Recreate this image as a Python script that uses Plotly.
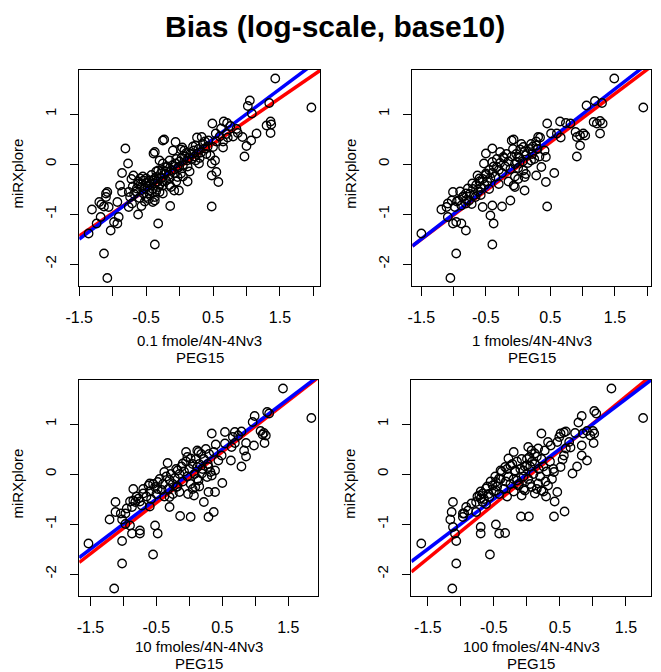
import plotly.graph_objects as go

# ---------------- data (log10 bias) ----------------
x1 = [1.43, 1.97, 1.05, 1.02, 1.08, 1.34, 1.30, 1.36, 1.37, 1.36, 1.15, 1.07, 1.00, 0.97, 0.94, 0.87,
      0.72, 0.66, 0.71, 0.76, 0.49, 0.62, 0.54, 0.65, 0.33, 0.26, 0.43, 0.38, 0.46, 0.50, 0.48, 0.53,
      0.55, 0.48, 0.58, 0.48, 0.24, 0.21, 0.16, 0.11, 0.24, 0.29, 0.04, 0.02, 0.07, -0.06, -0.25, -0.23,
      -0.37, -0.39, -0.10, -0.15, -0.06, -0.01, 0.02, -0.03, -0.08, -0.01, -0.14, -0.30, -0.25, -0.20,
      -0.32, -0.28, -0.35, -0.40, -0.45, -0.50, -0.54, -0.59, -0.62, -0.57, -0.64, -0.52, -0.45, -0.37,
      -0.32, -0.25, -0.20, -0.15, -0.13, -0.25, -0.30, -0.37, -0.45, -0.50, -0.54, -0.81, -0.77, -0.86,
      -0.69, -0.89, -0.86, -0.76, -0.74, -0.93, -1.08, -1.10, -1.10, -1.20, -1.17, -1.13, -1.06, -1.31,
      -1.36, -1.24, -1.18, -1.03, -0.98, -0.93, -0.91, -0.76, -0.71, -0.57, -0.62, -0.32, -0.37, -1.13,
      -1.08, -0.40, -0.37,
      -0.62, -0.58, -0.55, -0.50, -0.48, -0.44, -0.42, -0.38, -0.35, -0.33, -0.30, -0.28, -0.26, -0.22,
      -0.20, -0.18, -0.16, -0.12, -0.10, -0.08, -0.05, -0.03, 0.00, 0.03, 0.05, 0.08, 0.10, 0.12, 0.14,
      0.18, 0.20, 0.22, 0.26, 0.28, 0.30, 0.32, 0.35, 0.38, 0.40, 0.42, -0.65, -0.70, -0.72, -0.68,
      -0.60, -0.52, -0.46, -0.40, -0.35, -0.25, -0.15, -0.05, 0.05, 0.15, 0.12, 0.60, 0.70, 0.80, 0.55,
      0.65, 0.85]
y1 = [1.71, 1.13, 1.27, 1.16, 1.01, 1.22, 0.77, 0.85, 0.79, 0.62, 0.61, 0.47, 0.36, 0.15, 0.54, 0.62,
      0.53, 0.85, 0.82, 0.76, 0.81, 0.71, 0.61, 0.33, 0.54, 0.53, 0.47, 0.31, 0.17, 0.34, 0.01, 0.07,
      -0.16, -0.23, -0.36, -0.85, 0.37, 0.27, 0.21, 0.07, 0.07, 0.01, 0.33, 0.29, 0.27, 0.44, 0.47, 0.49,
      0.24, 0.21, 0.27, 0.07, 0.01, -0.06, -0.19, -0.26, -0.53, -0.53, -0.84, 0.07, 0.01, -0.06,
      -0.13, -0.19, -0.26, -0.33, -0.33, -0.29, -0.33, -0.29, -0.39, -0.46, -0.49, -0.49, -0.53, -0.39,
      -0.46, -0.43, -0.33, -0.29, -0.46, -0.59, -0.56, -0.73, -0.59, -0.66, -0.59, 0.31, 0.01, -0.18,
      -0.23, -0.43, -0.56, -0.56, -0.66, -0.76, -0.56, -0.59, -0.66, -0.76, -0.81, -0.85, -0.86, -0.91,
      -1.39, -1.19, -1.06, -1.33, -1.16, -1.19, -1.06, -0.86, -0.79, -0.84, -1.01, -1.19, -1.61, -1.79,
      -2.28, -0.76, -0.66,
      -0.35, -0.40, -0.25, -0.38, -0.45, -0.40, -0.22, -0.30, -0.15, -0.35, -0.42, -0.28, -0.12, -0.20,
      -0.15, -0.05, -0.22, -0.12, -0.02, -0.18, 0.10, -0.08, 0.05, 0.12, -0.02, 0.15, 0.22, -0.05, 0.12,
      0.10, 0.35, 0.15, 0.20, 0.30, 0.12, 0.23, 0.40, 0.45, 0.20, 0.35, -0.55, -0.45, -0.30, -0.60,
      -0.68, -0.75, -0.70, -0.50, -0.55, -0.35, -0.42, -0.35, -0.25, -0.15, -0.35, 0.55, 0.60, 0.55, 0.45,
      0.45, 0.70]

x2 = [1.49, 1.94, 1.06, 1.19, 1.30, 1.17, 1.22, 1.27, 1.31, 1.27, 1.01, 1.04, 0.96, 0.89, 0.91, 0.96,
      0.91, 0.81, 0.74, 0.65, 0.60, 0.66, 0.51, 0.45, 0.31, 0.34, 0.23, 0.28, 0.41, 0.43, 0.56, 0.43,
      0.45, 0.28, 0.36, 0.20, 0.08, 0.10, -0.05, -0.07, 0.10, -0.10, -0.07, 0.03, 0.08, 0.00, -0.02,
      -0.40, -0.50, -0.53, -0.28, -0.23, -0.40, -0.33, -0.63, -0.60, -0.50, -0.71, -0.78, -0.81, -0.86,
      -0.93, -1.01, -1.03, -1.09, -1.19, -1.11, -0.98, -0.88, -0.81, -0.76, -0.66, -0.55, -0.40, -0.43,
      -0.38, -0.40, -0.25, -0.12, -1.09, -1.01, -0.96, -0.88, -0.81, -0.96, -1.05, -1.50,
      -0.85, -0.80, -0.75, -0.70, -0.68, -0.65, -0.62, -0.60, -0.58, -0.55, -0.52, -0.50, -0.48, -0.45,
      -0.43, -0.40, -0.38, -0.35, -0.33, -0.30, -0.28, -0.25, -0.22, -0.20, -0.18, -0.15, -0.12, -0.10,
      -0.08, -0.05, -0.03, 0.00, 0.02, 0.05, 0.07, 0.10, 0.12, 0.15, 0.18, 0.20, 0.22, 0.25, 0.28, 0.30,
      0.33, -0.58, -0.45, -0.30, -0.15, -0.05, 0.00, 0.12, -0.90, -0.95, -0.72]
y2 = [1.71, 1.13, 1.17, 1.26, 1.22, 0.84, 0.81, 0.86, 0.81, 0.61, 0.61, 0.57, 0.57, 0.64, 0.54, 0.37,
      0.15, 0.81, 0.82, 0.85, 0.61, 0.53, 0.61, 0.81, 0.54, 0.53, 0.35, 0.37, 0.27, 0.14, -0.18, -0.36,
      -0.85, -0.23, -0.06, 0.07, -0.13, -0.26, -0.46, -0.43, -0.53, 0.47, 0.49, 0.29, 0.34, 0.14, 0.04,
      0.31, 0.21, 0.01, 0.24, 0.14, 0.04, -0.06, -0.23, -0.29, -0.19, -0.39, -0.49, -0.59, -0.66,
      -0.73, -0.56, -0.73, -0.79, -0.91, -0.86, -0.86, -0.83, -0.79, -0.73, -0.66, -0.86, -0.83, -1.03,
      -1.19, -1.61, -0.85, -0.73, -1.06, -1.19, -1.16, -1.19, -1.33, -1.79, -2.28, -1.39,
      -0.65, -0.72, -0.60, -0.50, -0.62, -0.42, -0.55, -0.35, -0.48, -0.30, -0.42, -0.22, -0.35, -0.12,
      -0.28, -0.18, -0.05, -0.25, 0.10, -0.12, 0.02, -0.18, 0.12, -0.05, 0.20, 0.05, -0.10, 0.15,
      0.30, 0.00, 0.20, -0.08, 0.12, 0.40, 0.05, 0.25, 0.18, 0.02, 0.30, 0.40, 0.20, 0.10, 0.45, 0.30,
      0.15, -0.62, -0.50, -0.40, -0.35, -0.25, -0.30, -0.20, -0.55, -0.75, -0.80]

x3 = [1.42, 1.85, 0.99, 0.96, 1.18, 1.21, 1.08, 1.13, 1.16, 1.11, 1.14, 0.98, 0.86, 0.83, 0.86, 0.79,
      0.69, 0.64, 0.63, 0.54, 0.69, 0.79, 0.74, 0.66, 0.34, 0.40, 0.54, 0.49, 0.44, 0.37, 0.29, 0.32,
      0.27, 0.34, 0.39, 0.50, 0.39, 0.29, 0.37, 0.29, 0.22, 0.07, 0.02, -0.14, 0.09, 0.14, 0.19, 0.12,
      -0.05, -0.03, -0.10, 0.12, 0.14, 0.02, -0.18, -0.33, -0.38, -0.48, -0.52, -0.60, -0.62, -0.70,
      -0.77, -0.85, -0.82, -0.72, -0.87, -0.95, -0.97, -1.12, -1.12, -1.21, -1.04, -1.02, -0.97, -0.90,
      -0.87, -0.75, -0.75, -0.48, -0.52, -0.55, -1.02, -1.02, -1.14, -1.53, -0.30, -0.30, -0.15, -0.20,
      -0.80, -0.75, -0.70, -0.65, -0.60, -0.58, -0.55, -0.50, -0.48, -0.45, -0.42, -0.40, -0.38, -0.35,
      -0.32, -0.30, -0.28, -0.25, -0.22, -0.20, -0.18, -0.15, -0.12, -0.10, -0.08, -0.05, -0.03, 0.00,
      0.02, 0.05, 0.08, 0.10, 0.12, 0.15, 0.18, 0.20, 0.22, 0.25, 0.28, 0.30, 0.05, -0.02, 0.15, -0.25,
      -0.60, -0.90, -0.85]
y3 = [1.71, 1.12, 1.16, 1.04, 1.24, 1.21, 0.86, 0.82, 0.77, 0.79, 0.62, 0.57, 0.62, 0.47, 0.35, 0.15,
      0.62, 0.54, 0.27, 0.84, 0.84, 0.85, 0.77, 0.74, 0.81, 0.59, 0.61, 0.37, 0.27, 0.44, 0.14, 0.04,
      -0.06, -0.03, 0.07, -0.18, -0.36, -0.36, -0.76, -0.86, -0.56, -0.43, -0.86, -0.84, -0.26, -0.13,
      0.01, 0.14, 0.44, 0.34, 0.21, 0.47, 0.44, 0.31, 0.07, 0.22, 0.04, -0.16, -0.26, -0.19, -0.23,
      -0.39, -0.49, -0.53, -0.56, -0.63, -0.66, -0.69, -0.79, -0.56, -0.76, -0.91, -0.79, -0.91, -1.00,
      -1.03, -1.19, -1.13, -1.19, -1.19, -1.03, -1.61, -1.34, -1.79, -2.29, -1.39, -0.66, -0.46, -0.36,
      -0.26,
      -0.45, -0.55, -0.30, -0.45, -0.35, -0.50, -0.20, -0.40, -0.30, -0.10, -0.32, -0.20, -0.45, -0.05,
      -0.30, -0.12, 0.00, -0.20, -0.08, 0.10, -0.25, 0.00, 0.15, -0.15, 0.05, 0.25, -0.05, 0.10,
      -0.20, 0.20, 0.00, 0.30, -0.10, 0.20, 0.40, 0.10, 0.30, 0.50, 0.20, 0.40, -0.30, -0.40, -0.25,
      -0.40, -0.65, -0.55, -0.30]

x4 = [1.28, 1.76, 1.02, 1.05, 0.83, 0.78, 0.91, 0.85, 0.96, 1.00, 1.02, 1.01, 0.83, 0.91, 0.83, 0.76,
      0.69, 0.73, 0.59, 0.56, 0.51, 0.49, 0.46, 0.64, 0.66, 0.59, 0.56, 0.54, 0.51, 0.41, 0.22, 0.32,
      0.36, 0.27, 0.17, 0.12, 0.07, 0.02, 0.04, 0.46, 0.42, 0.41, 0.57, 0.32, 0.29, 0.22, 0.17, 0.12,
      0.03, -0.09, 0.07, -0.03, -0.08, -0.13, -0.15, -0.18, -0.05, 0.00, -0.20, -0.25, -0.33, -0.28,
      -0.40, -0.42, -0.47, -0.52, -0.47, -0.62, -0.67, -0.72, -0.70, -0.77, -0.84, -0.89, -0.92, -0.97,
      -0.77, -0.67, -0.57, -1.12, -1.14, -1.16, -1.12, -1.07, -1.09, -0.70, -0.70, -0.47, -0.42, -0.33,
      -0.56, -1.07, -1.13, -1.60, -0.95, -0.97,
      -0.75, -0.70, -0.65, -0.60, -0.58, -0.55, -0.50, -0.48, -0.45, -0.42, -0.40, -0.38, -0.35, -0.32,
      -0.30, -0.28, -0.25, -0.22, -0.20, -0.18, -0.15, -0.12, -0.10, -0.08, -0.05, -0.03, 0.00, 0.02,
      0.05, 0.08, 0.10, 0.12, 0.15, 0.18, 0.20, 0.22, 0.25, 0.28, 0.30, 0.35, 0.38, 0.40, -0.30, -0.20,
      -0.05, 0.05, 0.15, 0.25, -0.62]
y4 = [1.71, 1.12, 1.26, 1.21, 1.16, 1.03, 0.86, 0.81, 0.77, 0.86, 0.81, 0.62, 0.57, 0.27, 0.37, 0.15,
      0.01, 0.82, 0.85, 0.83, 0.81, 0.74, 0.64, 0.64, 0.53, 0.51, 0.37, 0.29, 0.14, 0.04, 0.81, 0.64,
      0.57, 0.47, 0.51, 0.41, 0.47, 0.54, 0.34, -0.36, -0.55, -0.85, -0.75, -0.23, -0.45, -0.33, -0.19,
      -0.39, -0.85, -0.85, -0.26, -0.33, -0.43, -0.23, -0.13, 0.07, 0.07, 0.17, 0.44, 0.17, 0.14, 0.31,
      0.07, -0.09, -0.16, -0.23, -0.33, -0.29, -0.39, -0.43, -0.49, -0.56, -0.59, -0.73, -0.66, -0.79,
      -0.76, -0.56, -0.46, -0.56, -0.76, -0.91, -1.06, -1.34, -1.19, -1.06, -1.19, -1.01, -1.19, -1.18,
      -1.61, -1.79, -2.29, -1.39, -0.79, -0.86,
      -0.45, -0.35, -0.50, -0.25, -0.40, -0.15, -0.35, -0.05, -0.25, -0.40, -0.10, 0.05, -0.30, -0.15,
      0.10, -0.05, -0.20, 0.20, -0.10, 0.05, 0.25, -0.20, 0.10, 0.30, -0.05, 0.15, 0.30, -0.10,
      0.15, 0.25, 0.00, 0.20, 0.35, 0.10, -0.05, 0.30, 0.15, -0.15, 0.05, 0.25, -0.10, 0.10, -0.45, -0.35,
      -0.30, -0.20, -0.30, -0.35, -0.60]

xs = [x1, x2, x3, x4]
ys = [y1, y2, y3, y4]

# regression lines (red: fitted line, blue: identity)
red_intercept = [-0.06, -0.05, -0.065, -0.07]
red_slope = [0.92, 0.97, 1.02, 1.08]
blue_intercept = [0.0, 0.0, 0.0, 0.0]
blue_slope = [1.0, 1.0, 1.0, 1.0]

xlabels = ["0.1 fmole/4N-4Nv3", "1 fmoles/4N-4Nv3", "10 fmoles/4N-4Nv3", "100 fmoles/4N-4Nv3"]
xlab2 = "PEG15"
ylab = "miRXplore"
title = "Bias (log-scale, base10)"

x_tickvals = [-1.5, -1.0, -0.5, 0.0, 0.5, 1.0, 1.5, 2.0]
x_ticktext = ["-1.5", "", "-0.5", "", "0.5", "", "1.5", ""]
y_tickvals = [-2, -1, 0, 1]
y_ticktext = ["-2", "-1", "0", "1"]

# ---------------- layout geometry ----------------
OFFX, OFFY = 16, 8           # where the figure lands in the page
PW, PH = 661, 672            # page (window) size
W, H = PW - OFFX, PH - OFFY  # figure size
boxes = [  # left, right, top, bottom in page px
    (74.5, 320.7, 70, 286),
    (415, 659, 70, 286),
    (74.5, 318.5, 380, 596),
    (414, 659, 380, 596),
]
# centres of the two x-label lines below each panel (page px)
xlab_lines = [(340, 357), (340, 357), (646, 663), (646, 663)]
xranges = [(-1.5, 2.1), (-1.64, 2.06), (-1.67, 1.95), (-1.75, 1.88)]
yrange = (-2.44, 1.88)

FONT = "Liberation Sans, Arial, sans-serif"


def px(p):
    return (p - OFFX) / W


def py(p):
    return 1 - (p - OFFY) / H


fig = go.Figure()
annotations = []
for i in range(4):
    sfx = "" if i == 0 else str(i + 1)
    xa, ya = "x" + sfx, "y" + sfx
    x0, x1r = xranges[i]
    lx = [x0, x1r]
    fig.add_trace(go.Scatter(x=lx, y=[red_intercept[i] + red_slope[i] * v for v in lx],
                             mode="lines", line=dict(color="#ff0000", width=3.5),
                             xaxis=xa, yaxis=ya, showlegend=False, hoverinfo="skip"))
    fig.add_trace(go.Scatter(x=lx, y=[blue_intercept[i] + blue_slope[i] * v for v in lx],
                             mode="lines", line=dict(color="#0000ff", width=3.5),
                             xaxis=xa, yaxis=ya, showlegend=False, hoverinfo="skip"))
    fig.add_trace(go.Scatter(x=xs[i], y=ys[i], mode="markers",
                             marker=dict(symbol="circle-open", size=8.5, color="black",
                                         line=dict(width=1.3, color="black")),
                             xaxis=xa, yaxis=ya, showlegend=False))
    l, r, t, b = boxes[i]
    common = dict(showline=True, mirror=True, linecolor="black", linewidth=1,
                  showgrid=False, zeroline=False, ticks="outside", tickcolor="black",
                  tickwidth=1)
    fig.layout["xaxis" + sfx] = dict(domain=[px(l), px(r)], range=list(xranges[i]),
                                     anchor=ya, tickvals=x_tickvals, ticktext=x_ticktext,
                                     ticklen=9, ticklabelstandoff=8,
                                     tickfont=dict(family=FONT, size=16, color="black"), **common)
    fig.layout["yaxis" + sfx] = dict(domain=[py(b), py(t)], range=list(yrange),
                                     anchor=xa, tickvals=y_tickvals, ticktext=y_ticktext,
                                     tickangle=-90, ticklen=8, ticklabelstandoff=8,
                                     tickfont=dict(family=FONT, size=15, color="black"), **common)
    cx = (l + r) / 2
    l1, l2 = xlab_lines[i]
    annotations.append(dict(text=xlabels[i], x=px(cx), y=py(l1), xref="paper", yref="paper",
                            showarrow=False, xanchor="center", yanchor="middle",
                            font=dict(family=FONT, size=15, color="black")))
    annotations.append(dict(text=xlab2, x=px(cx), y=py(l2), xref="paper", yref="paper",
                            showarrow=False, xanchor="center", yanchor="middle",
                            font=dict(family=FONT, size=15, color="black")))
    annotations.append(dict(text=ylab, x=px(l - 64), y=py((t + b) / 2 - 4),
                            xref="paper", yref="paper", showarrow=False, textangle=-90,
                            xanchor="center", yanchor="middle",
                            font=dict(family=FONT, size=15, color="black")))

annotations.append(dict(text="<b>" + title + "</b>", x=px(336), y=1, xref="paper", yref="paper",
                        showarrow=False, xanchor="center", yanchor="top",
                        font=dict(family=FONT, size=30, color="black")))

fig.update_layout(width=W, height=H, margin=dict(l=0, r=0, t=0, b=0),
                  paper_bgcolor="white", plot_bgcolor="white",
                  annotations=annotations)
fig.write_html("out.html")
